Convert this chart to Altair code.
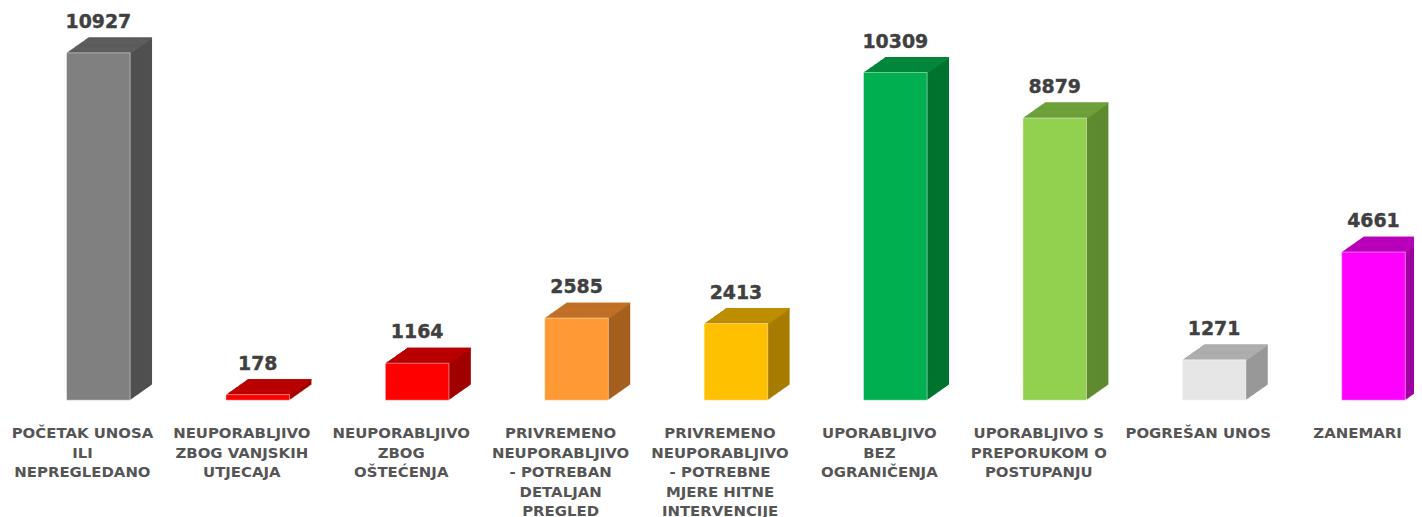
import altair as alt
import pandas as pd

categories = [
    "POČETAK UNOSA|ILI|NEPREGLEDANO",
    "NEUPORABLJIVO|ZBOG VANJSKIH|UTJECAJA",
    "NEUPORABLJIVO|ZBOG|OŠTEĆENJA",
    "PRIVREMENO|NEUPORABLJIVO|- POTREBAN|DETALJAN|PREGLED",
    "PRIVREMENO|NEUPORABLJIVO|- POTREBNE|MJERE HITNE|INTERVENCIJE",
    "UPORABLJIVO|BEZ|OGRANIČENJA",
    "UPORABLJIVO S|PREPORUKOM O|POSTUPANJU",
    "POGREŠAN UNOS",
    "ZANEMARI",
]
values = [10927, 178, 1164, 2585, 2413, 10309, 8879, 1271, 4661]

front_colors = ["#808080", "#FF0000", "#FF0000", "#FF9933", "#FFC000",
                "#00B050", "#92D050", "#E6E6E6", "#FF00FF"]
top_colors = ["#606060", "#C00000", "#C00000", "#C87428", "#C49300",
              "#008C3F", "#72A63C", "#B3B3B3", "#C000C0"]
side_colors = ["#505050", "#A00000", "#A00000", "#A5601F", "#A67C00",
               "#00732F", "#5F8A30", "#989898", "#A000A0"]

df = pd.DataFrame({"cat": categories, "value": values})

BAR_W = 64
DEPTH_X = 22
DEPTH_Y = 15.5
FULL_W = 1442.4
PLOT_W = 1403
PLOT_H = 383.6

x_enc = alt.X("cat:N", sort=categories,
              scale=alt.Scale(range=[0, FULL_W], paddingInner=0, paddingOuter=0),
              axis=alt.Axis(title=None, labelAngle=0, domain=False, ticks=False,
                            labelExpr="split(datum.label, '|')",
                            labelFont="DejaVu Sans", labelFontWeight="bold",
                            labelFontSize=15, labelColor="#555555",
                            labelLineHeight=19.7, labelOffset=-16, labelPadding=25.5,
                            labelBaseline="top", labelLimit=0))
y_enc = alt.Y("value:Q", scale=alt.Scale(domain=[0, 12000], nice=False),
              axis=None)


def color_enc(palette):
    return alt.Color("cat:N", scale=alt.Scale(domain=categories, range=palette),
                     legend=None)


base = alt.Chart(df)
layers = []
for i in range(DEPTH_X, 0, -1):
    dy = -DEPTH_Y * i / DEPTH_X
    side = base.mark_bar(width=BAR_W, xOffset=i, yOffset=dy, y2Offset=dy).encode(
        x=x_enc, y=y_enc, y2=alt.Y2(datum=0), color=color_enc(side_colors))
    top = base.mark_bar(width=BAR_W, xOffset=i, yOffset=dy, y2Offset=dy + 1.3).encode(
        x=x_enc, y=y_enc, y2=alt.Y2("value:Q"), color=color_enc(top_colors))
    layers += [side, top]

front = base.mark_bar(width=BAR_W, stroke="#ffffff", strokeOpacity=0.45,
                      strokeWidth=1).encode(
    x=x_enc, y=y_enc, color=color_enc(front_colors))

labels = base.mark_text(font="DejaVu Sans", fontWeight="bold", fontSize=19,
                        color="#404040", stroke="#404040", strokeWidth=0.4,
                        baseline="alphabetic", dy=-25).encode(
    x=x_enc, y=y_enc, text=alt.Text("value:Q", format="d"))

chart = alt.layer(*layers, front, labels).resolve_scale(
    color="independent"
).properties(
    width=PLOT_W, height=PLOT_H,
    autosize=alt.AutoSizeParams(type="none"),
    padding={"left": 10.7, "top": 9.4, "right": 0, "bottom": 116},
).configure_view(stroke=None)

chart.save("out.html", embed_options={"renderer": "svg", "actions": False})
